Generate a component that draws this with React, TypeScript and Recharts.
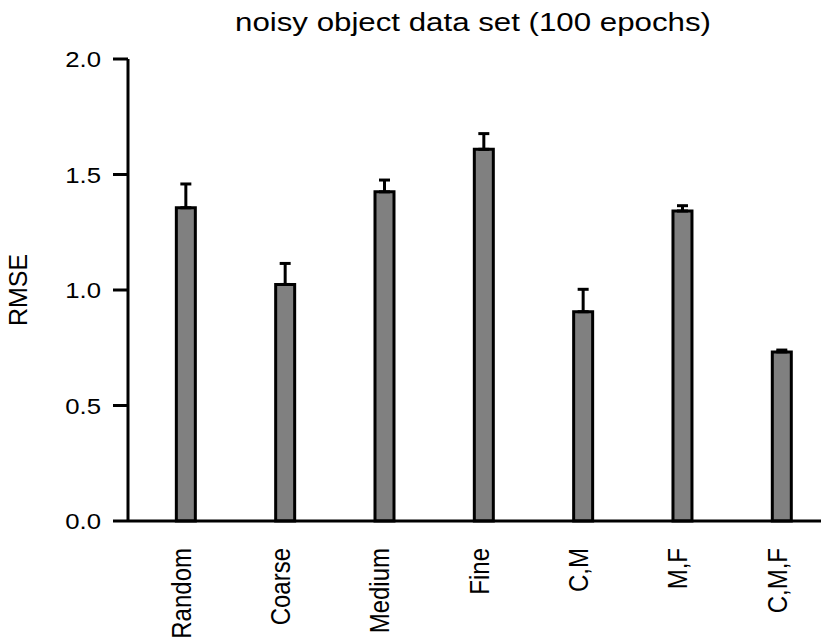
import React from 'react';
import { BarChart, Bar, XAxis, YAxis, ErrorBar } from 'recharts';

const categories = ['Random', 'Coarse', 'Medium', 'Fine', 'C,M', 'M,F', 'C,M,F'];
const rmse = [1.356, 1.024, 1.425, 1.609, 0.906, 1.342, 0.732];
const rmseErr = [0.103, 0.091, 0.051, 0.068, 0.097, 0.023, 0.008];
const yTicks = [0, 0.5, 1.0, 1.5, 2.0];

const FONT = '"Liberation Sans", Arial, Helvetica, sans-serif';

const data = categories.map((name, i) => ({
  idx: i,
  name,
  rmse: rmse[i],
  err: [0, rmseErr[i]], // only the upper whisker is drawn
}));

// rotated category label, widened a bit like the reference
const XTick = (props: any) => {
  const { x, y, payload } = props;
  return (
    <text
      transform={`translate(${x}, ${y + 19}) rotate(-90) scale(1, 1.15)`}
      x={0}
      y={0}
      dy={4}
      textAnchor="end"
      fontSize={24}
      fontFamily={FONT}
      fill="#000"
    >
      {categories[payload.value]}
    </text>
  );
};

const YTick = (props: any) => {
  const { x, y, payload } = props;
  return (
    <text
      transform={`translate(${x}, ${y}) scale(1.12, 1)`}
      x={0}
      y={0}
      dy={8}
      textAnchor="end"
      fontSize={23}
      fontFamily={FONT}
      fill="#000"
    >
      {Number(payload.value).toFixed(1)}
    </text>
  );
};

const App: React.FC = () => {
  return (
    <div style={{ position: 'absolute', left: 0, top: 0, width: 825, height: 641, background: '#fff' }}>
      <div
        style={{
          position: 'absolute',
          left: 473,
          top: 10,
          fontFamily: FONT,
          fontSize: 25,
          lineHeight: 1,
          whiteSpace: 'nowrap',
          transform: 'translateX(-50%) scaleX(1.25)',
          color: '#000',
        }}
      >
        noisy object data set (100 epochs)
      </div>
      <div
        style={{
          position: 'absolute',
          left: 18,
          top: 290,
          fontFamily: FONT,
          fontSize: 25,
          lineHeight: 1,
          whiteSpace: 'nowrap',
          transform: 'translate(-50%, -50%) rotate(-90deg)',
          color: '#000',
        }}
      >
        RMSE
      </div>
      <BarChart
        width={825}
        height={641}
        data={data}
        margin={{ top: 59, right: 4, left: 0, bottom: 0 }}
      >
        <XAxis
          dataKey="idx"
          type="number"
          domain={[-0.584, 6.393]}
          ticks={[0, 1, 2, 3, 4, 5, 6]}
          interval={0}
          height={120}
          axisLine={{ stroke: '#000', strokeWidth: 3 }}
          tickLine={false}
          tick={<XTick />}
          allowDataOverflow
        />
        <YAxis
          domain={[0, 2]}
          ticks={yTicks}
          width={128}
          axisLine={{ stroke: '#000', strokeWidth: 3 }}
          tickLine={{ stroke: '#000', strokeWidth: 3 }}
          tickSize={15}
          tickMargin={12}
          tick={<YTick />}
        />
        <Bar
          dataKey="rmse"
          fill="#808080"
          stroke="#000"
          strokeWidth={3}
          barSize={19}
          isAnimationActive={false}
        >
          <ErrorBar dataKey="err" width={5.5} stroke="#000" strokeWidth={3} direction="y" />
        </Bar>
      </BarChart>
    </div>
  );
};

export default App;
